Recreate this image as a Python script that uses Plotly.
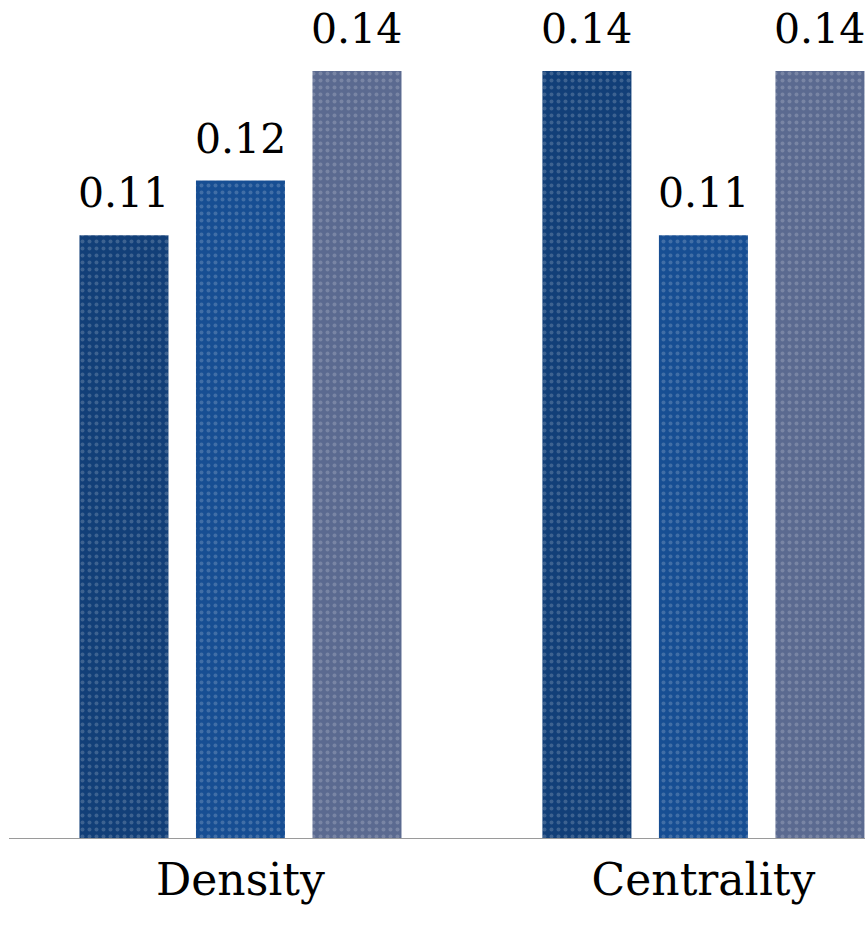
import plotly.graph_objects as go

# Network metrics compared across three groups
categories = ["Density", "Centrality"]
series_a = [0.11, 0.14]
series_b = [0.12, 0.11]
series_c = [0.14, 0.14]

colors = ["#123F78", "#174E93", "#5B6A90"]
series = [series_a, series_b, series_c]

BARGAP = 0.245
FONT = "DejaVu Serif"

fig = go.Figure()
for vals, col in zip(series, colors):
    fig.add_trace(go.Bar(
        x=categories,
        y=vals,
        marker=dict(
            color=col,
            line=dict(width=0),
            pattern=dict(shape=".", fgcolor="white", fgopacity=0.18,
                         size=7, solidity=0.25),
        ),
        hoverinfo="skip",
    ))

# Value labels above each bar, offset to sit over its slot in the group
slot = (1 - BARGAP) / len(series)
annotations = []
for si, vals in enumerate(series):
    for ci, v in enumerate(vals):
        annotations.append(dict(
            x=ci + (si - 1) * slot, y=v, xref="x", yref="y",
            text=f"{v:.2f}", showarrow=False,
            yanchor="bottom", yshift=16,
            font=dict(family=FONT, size=41, color="black"),
        ))

fig.update_layout(
    width=865, height=925,
    margin=dict(l=9, r=0, t=0, b=87),
    barmode="group",
    bargap=BARGAP,
    bargroupgap=0.236,
    showlegend=False,
    plot_bgcolor="white",
    paper_bgcolor="white",
    annotations=annotations,
    xaxis=dict(
        range=[-0.5, 1.349],
        showline=True, linecolor="#9a9a9a", linewidth=1,
        showgrid=False, ticks="",
        tickfont=dict(family=FONT, size=44, color="black"),
        ticklabelstandoff=3,
    ),
    yaxis=dict(
        range=[0, 0.15295],
        visible=False,
        showgrid=False, zeroline=False,
    ),
)

fig.write_html("out.html")
